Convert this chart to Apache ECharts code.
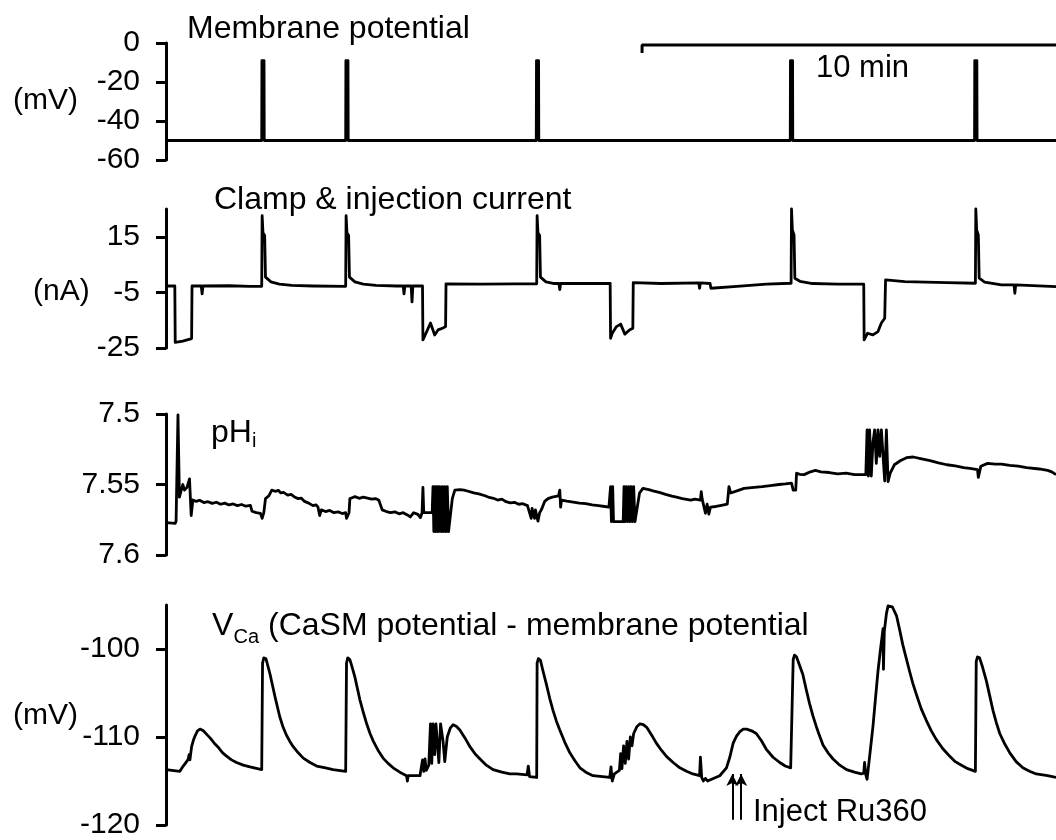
<!DOCTYPE html>
<html>
<head>
<meta charset="utf-8">
<script src="https://cdn.jsdelivr.net/npm/echarts@6/dist/echarts.min.js"></script>
<style>
  html, body { margin: 0; background: #fff; }
  #chart { width: 1056px; height: 840px; }
</style>
</head>
<body>
<div id="chart"></div>
<script>
// time axis in minutes, shared by all four traces
const tMax = 21.2

// tick values per panel
const memTicks = [0, -20, -40, -60]
const curTicks = [15, -5, -25]
const phTicks = [7.5, 7.55, 7.6]
const vcaTicks = [-100, -110, -120]

// membrane potential (mV)
const memPot = [
  [0, -50], [2.28, -50], [2.285, -9], [2.335, -9], [2.34, -50],
  [4.28, -50], [4.285, -9], [4.335, -9], [4.34, -50],
  [8.82, -50], [8.825, -9], [8.875, -9], [8.88, -50],
  [14.87, -50], [14.875, -9], [14.925, -9], [14.93, -50],
  [19.26, -50], [19.265, -9], [19.315, -9], [19.32, -50], [21.2, -50]
]

// scale bar "10 min" (drawn in the membrane panel)
const scaleBar = [[11.34, -5.1], [11.34, -1.0], [21.2, -1.0]]

// clamp & injection current (nA)
const clampCurrent = [
  [0, -2.7], [0.21, -2.7], [0.22, -23.0], [0.4, -22.5], [0.61, -21.6], [0.62, -2.7],
  [0.84, -2.7], [0.86, -5.5], [0.88, -2.7], [1.5, -2.6], [2.0, -2.8],
  [2.28, -2.8], [2.29, 22.6], [2.31, 16.5], [2.35, 15.5], [2.37, 0.5], [2.5, -1.2], [2.7, -2.0], [3.0, -2.5], [3.5, -2.7],
  [4.28, -2.8], [4.29, 22.6], [4.31, 16.5], [4.35, 15.5], [4.37, 0.5], [4.5, -1.2], [4.7, -2.0], [5.0, -2.5], [5.5, -2.7],
  [5.65, -2.7], [5.67, -5.5], [5.69, -2.7], [5.84, -2.7], [5.86, -8.4], [5.88, -2.7], [6.11, -2.7],
  [6.12, -22.1], [6.21, -19.1], [6.30, -16.0], [6.40, -20.3], [6.48, -18.5], [6.60, -17.8], [6.66, -17.3], [6.67, -1.9],
  [7.5, -2.0], [8.3, -1.9], [8.83, -1.9],
  [8.84, 22.6], [8.86, 16.5], [8.90, 15.5], [8.92, 0.5], [9.05, -1.2], [9.25, -1.8],
  [9.36, -1.8], [9.38, -4.0], [9.40, -1.8], [10.58, -1.8],
  [10.59, -21.5], [10.63, -19.7], [10.73, -17.3], [10.83, -16.4], [10.93, -20.0], [11.04, -18.5], [11.12, -17.9], [11.13, -1.5],
  [11.8, -1.8], [12.69, -1.6], [12.71, -3.5], [12.73, -1.6], [12.96, -1.8], [12.98, -3.5], [13.6, -2.8], [14.3, -2.0], [14.89, -1.7],
  [14.90, 25.0], [14.92, 17.5], [14.96, 15.7], [14.98, 0.1], [15.1, -1.0], [15.4, -1.8], [16.0, -2.0], [16.62, -2.0],
  [16.63, -22.1], [16.71, -19.7], [16.84, -20.3], [16.96, -19.1], [17.04, -16.0], [17.12, -14.3], [17.14, -0.5],
  [17.6, -1.1], [18.6, -1.5], [19.28, -1.7],
  [19.29, 25.0], [19.31, 17.5], [19.35, 15.7], [19.37, 0.1], [19.5, -1.3], [19.9, -2.3],
  [20.20, -2.3], [20.22, -5.3], [20.24, -2.3], [21.2, -2.9]
]

// intracellular pH
const phI = [
  [0, 7.5770], [0.22, 7.5775], [0.24, 7.5760], [0.28, 7.5760], [0.285, 7.5007], [0.31, 7.5007], [0.32, 7.5590],
  [0.36, 7.5600], [0.40, 7.5500], [0.44, 7.5540], [0.50, 7.5520], [0.56, 7.5460], [0.58, 7.5470], [0.60, 7.5720],
  [0.63, 7.5720], [0.64, 7.5610], [0.72, 7.5620], [0.8, 7.5612], [0.9, 7.5628], [1.0, 7.5622], [1.1, 7.5634],
  [1.2, 7.5626], [1.3, 7.5640], [1.4, 7.5632], [1.5, 7.5645], [1.6, 7.5638], [1.7, 7.5650], [1.8, 7.5642],
  [1.9, 7.5654], [2.01, 7.5648], [2.05, 7.5690], [2.15, 7.5700], [2.25, 7.5705], [2.29, 7.5740],
  [2.33, 7.5700], [2.37, 7.5600], [2.45, 7.5580], [2.52, 7.5540], [2.6, 7.5548], [2.68, 7.5542], [2.73, 7.5560],
  [2.8, 7.5556], [2.9, 7.5575], [2.98, 7.5570], [3.06, 7.5588], [3.15, 7.5600], [3.22, 7.5596], [3.3, 7.5620],
  [3.4, 7.5632], [3.5, 7.5650], [3.57, 7.5644], [3.62, 7.5660], [3.66, 7.5720], [3.70, 7.5680], [3.8, 7.5692],
  [3.9, 7.5684], [4.0, 7.5700], [4.1, 7.5694], [4.2, 7.5706], [4.28, 7.5700], [4.30, 7.5740], [4.36, 7.5700],
  [4.38, 7.5600], [4.45, 7.5592], [4.5, 7.5586], [4.6, 7.5598], [4.7, 7.5590], [4.8, 7.5596], [4.9, 7.5604],
  [5.0, 7.5600], [5.07, 7.5612], [5.15, 7.5680], [5.25, 7.5692], [5.35, 7.5700], [5.45, 7.5694], [5.55, 7.5708],
  [5.65, 7.5700], [5.75, 7.5716], [5.82, 7.5730], [5.9, 7.5700], [6.0, 7.5712], [6.06, 7.5735],
  [6.10, 7.5700], [6.12, 7.5520], [6.14, 7.5700], [6.34, 7.5700],
  [6.36, 7.5515], [6.38, 7.5834], [6.40, 7.5515], [6.42, 7.5834], [6.44, 7.5515], [6.46, 7.5834], [6.48, 7.5515],
  [6.50, 7.5834], [6.52, 7.5515], [6.56, 7.5834], [6.58, 7.5515], [6.61, 7.5834], [6.64, 7.5515], [6.67, 7.5834],
  [6.70, 7.5515], [6.73, 7.5834], [6.76, 7.5834], [6.82, 7.5600], [6.88, 7.5540], [6.92, 7.5530], [7.0, 7.5536],
  [7.1, 7.5540], [7.2, 7.5548], [7.33, 7.5560], [7.45, 7.5566], [7.6, 7.5580], [7.7, 7.5592], [7.8, 7.5598],
  [7.9, 7.5610], [8.0, 7.5604], [8.1, 7.5622], [8.2, 7.5630], [8.3, 7.5626], [8.4, 7.5640], [8.5, 7.5636],
  [8.61, 7.5650],
  [8.62, 7.5657], [8.70, 7.5740], [8.72, 7.5670], [8.78, 7.5740], [8.80, 7.5680], [8.86, 7.5760], [8.90, 7.5700],
  [8.94, 7.5680], [9.02, 7.5620], [9.10, 7.5600], [9.20, 7.5590], [9.35, 7.5580], [9.38, 7.5540], [9.40, 7.5660],
  [9.42, 7.5610], [9.55, 7.5618], [9.7, 7.5625], [9.85, 7.5632], [10.0, 7.5635], [10.15, 7.5644], [10.3, 7.5650],
  [10.45, 7.5656], [10.55, 7.5660],
  [10.59, 7.5515], [10.61, 7.5764], [10.64, 7.5515], [10.66, 7.5764], [10.71, 7.5764], [10.89, 7.5764],
  [10.91, 7.5515], [10.93, 7.5764], [10.96, 7.5515], [10.99, 7.5764], [11.02, 7.5515], [11.05, 7.5764],
  [11.08, 7.5515], [11.11, 7.5764], [11.14, 7.5515], [11.17, 7.5764], [11.20, 7.5764], [11.28, 7.5560],
  [11.36, 7.5527], [11.5, 7.5536], [11.6, 7.5545], [11.75, 7.5556], [11.9, 7.5570], [12.05, 7.5582],
  [12.16, 7.5590], [12.3, 7.5600], [12.5, 7.5610], [12.6, 7.5604], [12.73, 7.5610],
  [12.75, 7.5551], [12.77, 7.5600], [12.85, 7.5704], [12.89, 7.5640], [12.93, 7.5710], [12.97, 7.5660],
  [13.1, 7.5656], [13.2, 7.5650], [13.37, 7.5640], [13.41, 7.5515], [13.45, 7.5560], [13.6, 7.5545], [13.77, 7.5527],
  [13.95, 7.5522], [14.2, 7.5515], [14.4, 7.5508], [14.6, 7.5500], [14.75, 7.5496], [14.90, 7.5491], [14.94, 7.5540],
  [15.0, 7.5540], [15.02, 7.5420], [15.1, 7.5428], [15.2, 7.5430], [15.35, 7.5410], [15.47, 7.5400],
  [15.6, 7.5410], [15.8, 7.5415], [16.0, 7.5425], [16.2, 7.5420], [16.4, 7.5430], [16.67, 7.5430],
  [16.70, 7.5113], [16.73, 7.5440], [16.76, 7.5113], [16.80, 7.5440], [16.84, 7.5200], [16.88, 7.5113],
  [16.92, 7.5350], [16.96, 7.5113], [17.00, 7.5300], [17.04, 7.5113], [17.08, 7.5113], [17.12, 7.5475],
  [17.16, 7.5113], [17.20, 7.5480], [17.25, 7.5420], [17.35, 7.5360], [17.50, 7.5330], [17.64, 7.5310],
  [17.80, 7.5305], [18.0, 7.5318], [18.2, 7.5330], [18.4, 7.5346], [18.6, 7.5360], [18.8, 7.5368],
  [19.0, 7.5380], [19.15, 7.5386], [19.33, 7.5395], [19.35, 7.5450], [19.39, 7.5450], [19.41, 7.5370],
  [19.57, 7.5350], [19.75, 7.5356], [19.90, 7.5355], [20.1, 7.5364], [20.3, 7.5370], [20.5, 7.5380],
  [20.8, 7.5390], [21.0, 7.5400], [21.1, 7.5410], [21.2, 7.5430]
]

// V_Ca (mV)
const vCa = [
  [0, -113.7], [0.33, -113.9], [0.41, -113.3], [0.49, -112.8], [0.53, -112.5], [0.55, -112.0], [0.57, -112.6],
  [0.61, -111.1], [0.65, -110.4], [0.69, -109.9], [0.75, -109.3], [0.81, -109.1], [0.89, -109.3], [0.97, -109.7],
  [1.05, -110.1], [1.15, -110.7], [1.25, -111.2], [1.35, -111.8], [1.45, -112.2], [1.56, -112.6], [1.68, -112.9],
  [1.84, -113.2], [2.00, -113.4], [2.28, -113.7],
  [2.30, -101.6], [2.33, -101.0], [2.38, -101.1], [2.42, -101.8], [2.48, -102.9], [2.54, -104.2], [2.60, -105.5],
  [2.66, -106.7], [2.71, -107.7], [2.79, -108.9], [2.87, -109.8], [2.95, -110.5], [3.03, -111.1], [3.15, -111.8],
  [3.27, -112.4], [3.43, -112.9], [3.59, -113.3], [3.8, -113.5], [3.98, -113.7], [4.28, -113.9],
  [4.30, -101.6], [4.33, -101.0], [4.38, -101.2], [4.43, -102.0], [4.50, -103.2], [4.56, -104.5], [4.62, -105.8],
  [4.70, -107.2], [4.78, -108.5], [4.86, -109.6], [4.94, -110.5], [5.05, -111.5], [5.17, -112.4], [5.29, -113.0],
  [5.41, -113.5], [5.57, -114.0], [5.73, -114.4], [5.75, -115.0], [5.77, -114.4], [6.05, -114.4],
  [6.09, -114.3], [6.11, -112.6], [6.14, -113.9], [6.17, -112.5], [6.20, -113.8], [6.26, -113.2], [6.30, -108.5],
  [6.33, -113.0], [6.36, -108.5], [6.40, -112.0], [6.43, -108.5], [6.47, -108.5], [6.50, -112.9], [6.54, -108.5],
  [6.60, -110.5], [6.64, -112.8], [6.70, -110.0], [6.77, -109.0], [6.84, -108.6], [6.92, -108.8], [7.00, -109.2],
  [7.12, -110.1], [7.24, -111.1], [7.36, -111.9], [7.48, -112.5], [7.63, -113.2], [7.79, -113.7], [8.0, -114.0],
  [8.19, -114.2], [8.35, -114.2], [8.60, -114.3], [8.63, -113.3], [8.66, -114.5], [8.83, -114.6],
  [8.84, -101.6], [8.87, -101.1], [8.92, -101.3], [8.97, -102.3], [9.06, -104.0], [9.14, -105.6], [9.22, -107.0],
  [9.30, -108.2], [9.38, -109.2], [9.50, -110.6], [9.62, -111.8], [9.74, -112.7], [9.86, -113.5], [10.0, -114.0],
  [10.17, -114.4], [10.57, -114.6], [10.60, -113.4], [10.63, -115.0], [10.68, -114.2],
  [10.80, -113.8], [10.83, -111.9], [10.86, -113.6], [10.90, -111.0], [10.94, -113.0], [10.98, -110.5],
  [11.02, -112.5], [11.06, -110.0], [11.10, -111.0], [11.14, -109.6], [11.22, -108.8], [11.29, -108.5],
  [11.37, -108.6], [11.45, -108.9], [11.57, -109.8], [11.68, -110.7], [11.8, -111.5], [11.92, -112.2],
  [12.08, -112.9], [12.24, -113.5], [12.4, -113.9], [12.55, -114.2], [12.71, -114.4], [12.73, -112.3],
  [12.76, -114.6], [12.80, -115.0], [12.85, -114.7], [12.90, -115.0], [13.19, -114.4], [13.35, -113.5],
  [13.43, -112.3], [13.51, -110.7], [13.59, -109.9], [13.67, -109.4], [13.75, -109.1], [13.83, -109.1],
  [13.95, -109.3], [14.06, -109.6], [14.18, -110.4], [14.30, -111.4], [14.46, -112.3], [14.62, -112.9],
  [14.75, -113.3], [14.88, -113.5],
  [14.94, -101.2], [14.97, -100.7], [15.02, -100.9], [15.08, -101.7], [15.17, -102.9], [15.25, -104.6],
  [15.33, -106.2], [15.41, -107.6], [15.49, -108.8], [15.57, -109.9], [15.65, -110.9], [15.77, -111.8],
  [15.89, -112.5], [16.05, -113.2], [16.21, -113.7], [16.4, -114.0], [16.56, -114.2], [16.62, -114.1],
  [16.64, -112.9], [16.67, -114.3], [16.70, -114.8], [16.77, -111.8], [16.84, -108.8], [16.90, -105.6],
  [16.96, -102.5], [17.02, -100.0], [17.06, -98.5], [17.08, -97.7], [17.09, -102.3], [17.11, -98.0],
  [17.16, -96.0], [17.20, -95.1], [17.24, -94.9], [17.30, -95.2], [17.40, -96.2], [17.47, -97.7],
  [17.55, -99.5], [17.63, -101.0], [17.71, -102.5], [17.79, -103.9], [17.87, -105.1], [17.99, -106.8],
  [18.11, -108.1], [18.23, -109.3], [18.35, -110.3], [18.5, -111.3], [18.67, -112.2], [18.8, -112.8],
  [18.98, -113.3], [19.1, -113.6], [19.28, -113.9],
  [19.30, -101.4], [19.33, -100.9], [19.38, -101.0], [19.44, -101.9], [19.54, -103.6], [19.62, -105.3],
  [19.70, -107.0], [19.78, -108.4], [19.86, -109.6], [19.98, -110.8], [20.10, -111.8], [20.25, -112.8],
  [20.41, -113.5], [20.57, -113.9], [20.73, -114.2], [21.0, -114.4], [21.2, -114.6]
]

// Ru360 injection arrows: time (min), from / to in mV
const injectArrows = [13.49, 13.70]
const arrowFrom = -119.4
const arrowTo = -114.2

const FONT = 'Liberation Sans'

function yAxisFor(grid, min, max, ticks, extra) {
  return Object.assign({
    gridIndex: grid, type: 'value', min, max,
    axisLine: { show: true, lineStyle: { color: '#000', width: 3 } },
    axisTick: { show: true, length: 10, lineStyle: { color: '#000', width: 3 }, customValues: ticks },
    axisLabel: { color: '#000', fontSize: 30, fontFamily: FONT, margin: 26, customValues: ticks },
    splitLine: { show: false },
  }, extra || {})
}

function xAxisFor(grid) {
  return { gridIndex: grid, type: 'value', min: 0, max: tMax, show: false }
}

function trace(i, data, extra) {
  return Object.assign({
    type: 'line', xAxisIndex: i, yAxisIndex: i, data,
    showSymbol: false, clip: false, silent: true,
    lineStyle: { color: '#000', width: 2.8, join: 'round' },
  }, extra || {})
}

function label(x, y, text, size) {
  return {
    type: 'text', x, y, silent: true,
    style: { text, fill: '#000', fontSize: size, fontFamily: FONT, textAlign: 'left', textVerticalAlign: 'middle', align: 'left', verticalAlign: 'middle' },
  }
}

const chart = echarts.init(document.getElementById('chart'), null, { renderer: 'canvas' })

chart.setOption({
  backgroundColor: '#fff',
  animation: false,
  grid: [
    { left: 166, right: 0, top: 43, height: 117 },
    { left: 166, right: 0, top: 209, height: 139 },
    { left: 166, right: 0, top: 414, height: 141 },
    { left: 166, right: 0, top: 605, height: 225 },
  ],
  xAxis: [xAxisFor(0), xAxisFor(1), xAxisFor(2), xAxisFor(3)],
  yAxis: [
    yAxisFor(0, -60, 0, memTicks),
    yAxisFor(1, -25, 25, curTicks),
    yAxisFor(2, 7.5, 7.6, phTicks, { inverse: true }),
    yAxisFor(3, -120, -95, vcaTicks),
  ],
  series: [
    trace(0, memPot),
    trace(1, clampCurrent),
    trace(2, phI),
    trace(3, vCa, {
      markLine: {
        silent: true, symbol: ['none', 'arrow'], symbolSize: [9, 12],
        lineStyle: { color: '#000', width: 2, type: 'solid' },
        label: { show: false },
        data: injectArrows.map((t) => [{ coord: [t, arrowFrom] }, { coord: [t, arrowTo] }]),
      },
    }),
    trace(0, scaleBar, { lineStyle: { color: '#000', width: 3 } }),
  ],
  graphic: [
    label(187, 29, 'Membrane potential', 32),
    label(214, 200, 'Clamp & injection current', 32),
    label(211, 433, 'pH', 32),
    label(252, 441, 'i', 20),
    label(212, 626, 'V', 32),
    label(233.5, 637, 'Ca', 20),
    label(268, 626, '(CaSM potential - membrane potential', 32),
    label(13, 101, '(mV)', 30),
    label(33, 292, '(nA)', 30),
    label(13, 716, '(mV)', 30),
    label(816, 68, '10 min', 31),
    label(753, 812, 'Inject Ru360', 31),
  ],
})
</script>
</body>
</html>
